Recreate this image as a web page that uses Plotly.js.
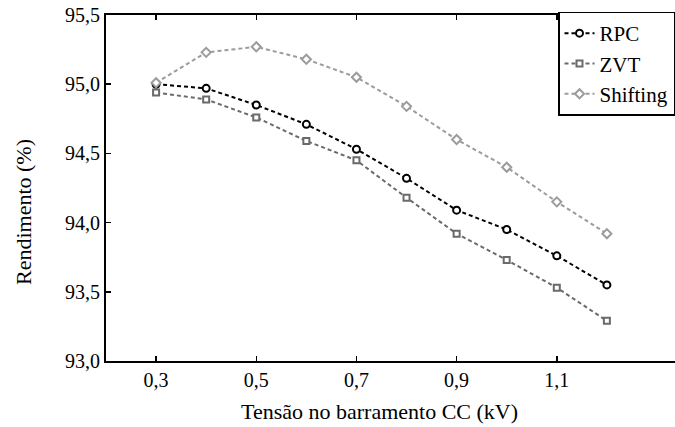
<!DOCTYPE html>
<html>
<head>
<meta charset="utf-8">
<script src="https://cdn.plot.ly/plotly-3.0.1.min.js"></script>
<style>
html,body{margin:0;padding:0;background:#fff;}
#chart{width:675px;height:427px;}
</style>
</head>
<body>
<div id="chart"></div>
<script>
const tensao = [0.3, 0.4, 0.5, 0.6, 0.7, 0.8, 0.9, 1.0, 1.1, 1.2];
const rpc = [95.00, 94.97, 94.85, 94.71, 94.53, 94.32, 94.09, 93.95, 93.76, 93.55];
const zvt = [94.94, 94.89, 94.76, 94.59, 94.45, 94.18, 93.92, 93.73, 93.53, 93.29];
const shifting = [95.01, 95.23, 95.27, 95.18, 95.05, 94.84, 94.60, 94.40, 94.15, 93.92];
const seriesNames = ['RPC', 'ZVT', 'Shifting'];
const xTicks = [0.3, 0.5, 0.7, 0.9, 1.1];
const xTickLabels = ['0,3', '0,5', '0,7', '0,9', '1,1'];
const yTicks = [93.0, 93.5, 94.0, 94.5, 95.0, 95.5];
const yTickLabels = ['93,0', '93,5', '94,0', '94,5', '95,0', '95,5'];
const xTitle = 'Tensão no barramento CC (kV)';
const yTitle = 'Rendimento (%)';

const FONT = '"Liberation Serif", "Times New Roman", serif';

function mk(name, y, color, symbol, size) {
  return {
    x: tensao, y: y, name: name, type: 'scatter', mode: 'lines+markers',
    line: {color: color, width: 2, dash: '4px,3px'},
    marker: {symbol: symbol, size: size, color: '#ffffff', line: {color: color, width: 2}}
  };
}

const data = [
  mk(seriesNames[0], rpc, '#000000', 'circle', 7),
  mk(seriesNames[1], zvt, '#6a6a6a', 'square', 6),
  mk(seriesNames[2], shifting, '#9c9c9c', 'diamond', 7)
];

const layout = {
  width: 675, height: 427,
  margin: {l: 106, r: 0, t: 15, b: 66, autoexpand: false},
  paper_bgcolor: '#fff', plot_bgcolor: '#fff',
  font: {family: FONT, size: 20, color: '#000'},
  showlegend: true,
  legend: {
    x: 1, y: 1.01, xanchor: 'right', yanchor: 'top',
    bgcolor: '#fff', bordercolor: '#000', borderwidth: 1.5,
    font: {family: FONT, size: 21, color: '#000'},
    itemwidth: 30, tracegroupgap: 0
  },
  xaxis: {
    range: [0.2, 1.336], tickmode: 'array', tickvals: xTicks, ticktext: xTickLabels,
    showgrid: false, zeroline: false,
    showline: true, linecolor: '#000', linewidth: 2, mirror: 'ticks',
    ticks: 'inside', ticklen: 5, tickwidth: 1.5, tickcolor: '#000',
    tickfont: {family: FONT, size: 20, color: '#000'}
  },
  yaxis: {
    range: [93.0, 95.5], tickmode: 'array', tickvals: yTicks, ticktext: yTickLabels,
    showgrid: false, zeroline: false,
    showline: true, linecolor: '#000', linewidth: 2,
    ticks: 'inside', ticklen: 5, tickwidth: 1.5, tickcolor: '#000',
    tickfont: {family: FONT, size: 20, color: '#000'}
  },
  annotations: [
    {text: xTitle, xref: 'paper', yref: 'paper', x: (379 - 106) / 569, y: 0, yshift: -50,
     xanchor: 'center', yanchor: 'middle', showarrow: false, font: {family: FONT, size: 22, color: '#000'}},
    {text: yTitle, xref: 'paper', yref: 'paper', x: 0, xshift: -83, y: (361 - 212) / 346,
     xanchor: 'center', yanchor: 'middle', textangle: -90, showarrow: false, font: {family: FONT, size: 22, color: '#000'}}
  ]
};

Plotly.newPlot('chart', data, layout, {staticPlot: true, displayModeBar: false});
</script>
</body>
</html>
